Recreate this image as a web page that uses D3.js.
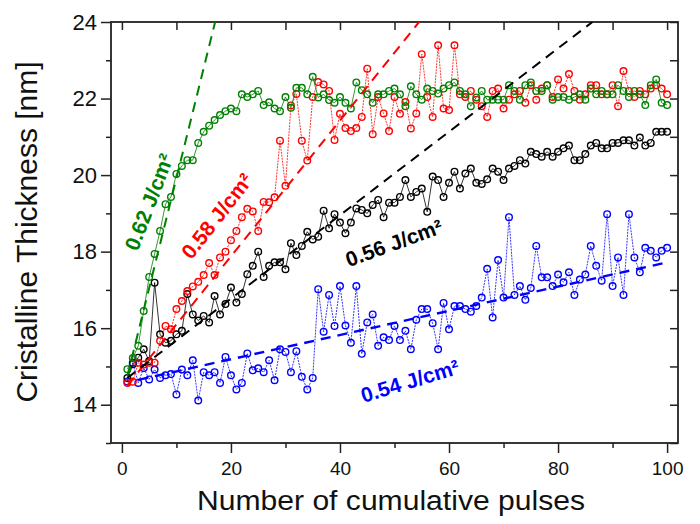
<!DOCTYPE html>
<html>
<head>
<meta charset="utf-8">
<script src="https://cdn.jsdelivr.net/npm/d3@7"></script>
<style>
  body { margin: 0; background: #fff; }
  svg text { font-family: "Liberation Sans", Arial, sans-serif; }
</style>
</head>
<body>
<svg id="chart" width="700" height="524"></svg>
<script>
// pulse number 1..100
const pulses = d3.range(1, 101);

const green = [14.93, 15.22, 15.54, 16.45, 17.34, 17.94, 18.54, 19.24, 19.43, 20.03,
  20.24, 20.39, 20.39, 20.84, 21.13, 21.29, 21.44, 21.57, 21.67, 21.74,
  21.67, 22.11, 22.04, 22.11, 22.2, 21.83, 21.9, 21.74, 21.67, 22.04,
  21.76, 22.28, 22.28, 22.11, 22.57, 22.03, 22.11, 21.96, 21.89, 22.04,
  21.89, 21.74, 22.42, 22.22, 22.11, 21.89, 22.11, 22.11, 22.2, 22.26,
  22.11, 21.8, 22.32, 22.11, 21.97, 22.26, 22.2, 22.13, 22.26, 22.35,
  22.42, 22.2, 22.11, 21.8, 22.03, 22.2, 21.97, 21.97, 21.97, 21.97,
  22.35, 22.2, 21.97, 22.35, 22.42, 22.2, 22.2, 22.35, 21.97, 22.04,
  22.04, 21.97, 22.04, 22.11, 21.97, 22.26, 22.11, 22.2, 22.11, 22.11,
  22.35, 22.2, 22.04, 22.2, 22.11, 21.83, 22.35, 22.5, 21.89, 21.83];

const red = [14.57, 14.6, 15.1, 15.05, 15.1, 15.1, 15.67, 16.06, 15.97, 16.5,
  16.71, 16.97, 17.09, 17.21, 17.39, 17.7, 17.39, 17.85, 18.0, 18.3,
  18.54, 18.9, 19.12, 19.05, 18.54, 19.3, 19.29, 19.42, 20.9, 19.72,
  21.82, 22.12, 20.9, 20.38, 22.04, 22.43, 22.37, 22.2, 20.92, 21.6,
  21.23, 21.15, 21.23, 21.52, 22.78, 21.07, 22.04, 21.61, 21.15, 22.04,
  21.6, 21.91, 21.22, 21.61, 23.16, 22.04, 21.52, 23.39, 21.74, 21.7,
  23.39, 22.11, 22.04, 22.2, 21.97, 21.8, 21.52, 22.2, 22.26, 21.74,
  21.97, 22.11, 22.2, 21.89, 22.35, 21.97, 22.26, 22.35, 22.04, 22.5,
  22.26, 22.64, 22.2, 21.97, 22.11, 22.35, 22.35, 22.11, 22.11, 22.35,
  21.8, 22.72, 22.2, 22.04, 22.2, 22.11, 22.26, 22.35, 22.26, 22.11];

const black = [14.7, 15.06, 15.23, 15.45, 15.14, 17.19, 15.84, 15.62, 15.67, 15.84,
  15.93, 16.89, 16.36, 16.2, 16.32, 16.15, 16.84, 16.36, 16.63, 17.06,
  16.67, 16.89, 17.41, 17.63, 18.0, 17.34, 17.63, 17.72, 17.72, 17.54,
  18.22, 17.91, 18.15, 18.52, 18.32, 18.39, 19.07, 18.61, 18.98, 18.76,
  18.48, 18.76, 19.13, 19.09, 19.0, 19.22, 19.35, 18.9, 19.28, 19.28,
  19.43, 19.87, 19.43, 19.56, 19.65, 19.04, 19.96, 19.87, 19.43, 19.8,
  20.09, 19.65, 20.04, 20.17, 19.8, 19.77, 19.89, 20.17, 20.09, 19.87,
  20.17, 20.24, 20.39, 20.3, 20.61, 20.55, 20.48, 20.61, 20.48, 20.61,
  20.7, 20.77, 20.39, 20.39, 20.55, 20.77, 20.84, 20.7, 20.7, 20.84,
  20.84, 20.91, 20.91, 20.77, 20.98, 20.77, 20.84, 21.13, 21.13, 21.13];

const blue = [14.61, 15.1, 14.57, 14.96, 14.66, 14.92, 14.7, 14.77, 14.8, 14.27,
  14.92, 14.77, 15.16, 14.11, 14.85, 14.77, 14.85, 14.57, 15.25, 14.77,
  14.4, 14.57, 15.34, 14.9, 14.95, 14.85, 15.16, 14.64, 15.45, 15.38,
  14.85, 15.4, 14.73, 14.4, 14.7, 17.02, 15.91, 16.87, 16.06, 17.1,
  16.07, 15.62, 17.1, 15.33, 16.15, 16.36, 15.54, 15.76, 15.69, 16.06,
  15.69, 15.93, 15.45, 16.22, 16.5, 16.5, 16.13, 15.45, 16.66, 15.97,
  16.58, 16.58, 16.5, 16.43, 16.58, 16.8, 17.55, 16.28, 17.78, 16.8,
  18.9, 16.87, 17.1, 16.74, 17.05, 18.15, 17.33, 17.33, 17.1, 17.4,
  17.2, 17.46, 16.87, 17.27, 17.4, 18.15, 17.63, 17.24, 18.98, 17.1,
  17.85, 16.87, 18.98, 17.85, 17.46, 18.1, 18.02, 17.85, 18.02, 18.1];

// linear fits, [x, y] at both ends
const fitGreen = [[1, 14.75], [17.1, 24]];
const fitRed = [[1, 14.5], [54.5, 24]];
const fitBlack = [[1, 14.7], [86.3, 24]];
const fitBlue = [[3, 14.65], [100, 17.72]];

const fluences = ["0.62 J/cm²", "0.58 J/cm²", "0.56 J/cm²", "0.54 J/cm²"];

const xMajor = [0, 20, 40, 60, 80, 100];
const xMinor = [10, 30, 50, 70, 90];
const yMajor = [14, 16, 18, 20, 22, 24];
const yMinor = [13, 15, 17, 19, 21, 23];

const svg = d3.select('#chart');
const margin = {top: 22, right: 22, bottom: 81, left: 111};
const width = 700 - margin.left - margin.right;
const height = 524 - margin.top - margin.bottom;
const g = svg.append('g').attr('transform', `translate(${margin.left},${margin.top})`);

const x = d3.scaleLinear().domain([-2, 102]).range([0, width]);
const y = d3.scaleLinear().domain([13, 24]).range([height, 0]);

// clip for the fit lines
g.append('clipPath').attr('id', 'clip')
  .append('rect').attr('width', width).attr('height', height);

const axisColor = '#222';
function styleAxis(sel) {
  sel.select('.domain').remove();
  sel.selectAll('line').attr('stroke', axisColor).attr('stroke-width', 1.5);
}

// bottom
g.append('g').attr('transform', `translate(0,${height})`)
  .call(d3.axisBottom(x).tickValues(xMajor).tickSize(10).tickPadding(9))
  .call(styleAxis)
  .selectAll('text').attr('font-size', 19).attr('fill', '#111');
g.append('g').attr('transform', `translate(0,${height})`)
  .call(d3.axisBottom(x).tickValues(xMinor).tickSize(5).tickFormat(''))
  .call(styleAxis);
// top
g.append('g')
  .call(d3.axisTop(x).tickValues(xMajor.concat(xMinor)).tickSize(-8).tickFormat(''))
  .call(styleAxis);
// left
g.append('g')
  .call(d3.axisLeft(y).tickValues(yMajor).tickSize(10).tickPadding(4))
  .call(styleAxis)
  .selectAll('text').attr('font-size', 22).attr('fill', '#111');
g.append('g')
  .call(d3.axisLeft(y).tickValues(yMinor).tickSize(5).tickFormat(''))
  .call(styleAxis);
// right
g.append('g').attr('transform', `translate(${width},0)`)
  .call(d3.axisRight(y).tickValues(yMajor.concat(yMinor)).tickSize(-8).tickFormat(''))
  .call(styleAxis);

g.append('rect')
  .attr('width', width).attr('height', height)
  .attr('fill', 'none').attr('stroke', axisColor).attr('stroke-width', 1.8);

const series = [
  {values: blue, color: '#0000ff', dash: '2,1'},
  {values: black, color: '#000000', dash: null},
  {values: red, color: '#ff0000', dash: '2,1'},
  {values: green, color: '#008000', dash: null}
];

const line = d3.line().x((d, i) => x(pulses[i])).y(d => y(d));

series.forEach(s => {
  g.append('path')
    .datum(s.values)
    .attr('fill', 'none')
    .attr('stroke', s.color)
    .attr('stroke-width', 0.8)
    .attr('stroke-dasharray', s.dash)
    .attr('d', line);
  g.append('g').selectAll('circle').data(s.values).join('circle')
    .attr('cx', (d, i) => x(pulses[i]))
    .attr('cy', d => y(d))
    .attr('r', 3.3)
    .attr('fill', 'none')
    .attr('stroke', s.color)
    .attr('stroke-width', 1.4);
});

const fits = [
  {pts: fitGreen, color: '#008000', w: 2},
  {pts: fitRed, color: '#ff0000', w: 2},
  {pts: fitBlack, color: '#000000', w: 2},
  {pts: fitBlue, color: '#0000ff', w: 2.4}
];
const fitLine = d3.line().x(d => x(d[0])).y(d => y(d[1]));
g.append('g').attr('clip-path', 'url(#clip)')
  .selectAll('path').data(fits).join('path')
  .attr('d', d => fitLine(d.pts))
  .attr('fill', 'none')
  .attr('stroke', d => d.color)
  .attr('stroke-width', d => d.w)
  .attr('stroke-dasharray', '10,7');

// fluence labels
const labelStyle = [
  {cx: 149, cy: 202, rot: -69, color: '#008000'},
  {cx: 217, cy: 216, rot: -52, color: '#ff0000'},
  {cx: 394, cy: 243, rot: -20, color: '#000000'},
  {cx: 410, cy: 381, rot: -17, color: '#0000ff'}
];
svg.selectAll('text.flu').data(fluences).join('text')
  .attr('class', 'flu')
  .attr('transform', (d, i) => `translate(${labelStyle[i].cx},${labelStyle[i].cy}) rotate(${labelStyle[i].rot})`)
  .attr('text-anchor', 'middle')
  .attr('dy', '0.35em')
  .attr('font-size', 21)
  .attr('font-weight', 'bold')
  .attr('fill', (d, i) => labelStyle[i].color)
  .text(d => d);

// axis titles
svg.append('text')
  .attr('x', 391).attr('y', 510)
  .attr('text-anchor', 'middle')
  .attr('font-size', 27)
  .attr('textLength', 388)
  .attr('lengthAdjust', 'spacingAndGlyphs')
  .attr('fill', '#111')
  .text('Number of cumulative pulses');

svg.append('text')
  .attr('transform', 'translate(37,232) rotate(-90)')
  .attr('text-anchor', 'middle')
  .attr('font-size', 30)
  .attr('fill', '#111')
  .text('Cristalline Thickness [nm]');
</script>
</body>
</html>
